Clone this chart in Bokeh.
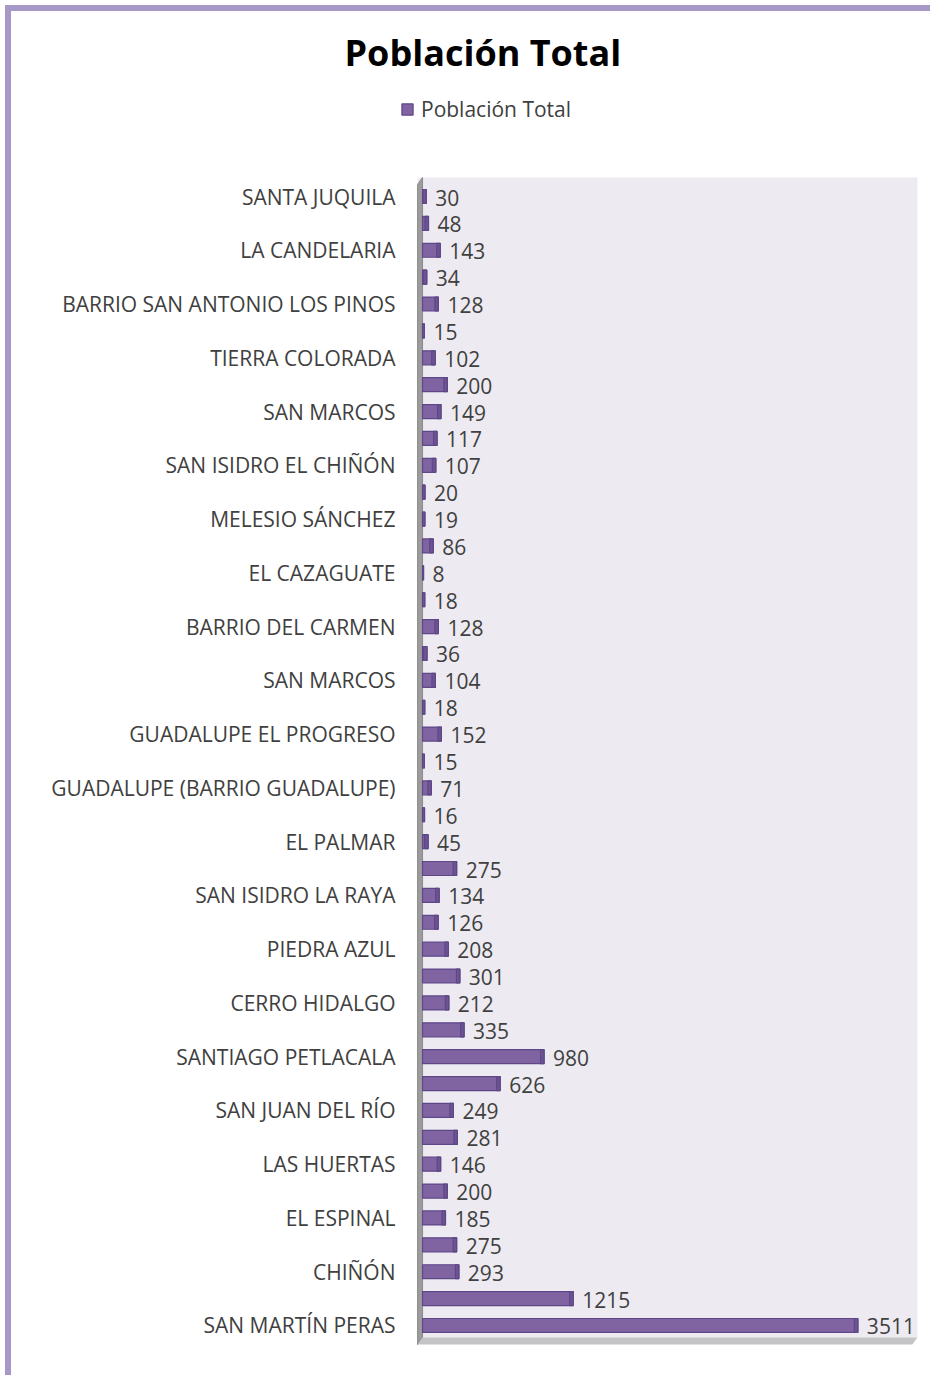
from bokeh.plotting import figure
from bokeh.models import Range1d, FixedTicker, Legend, LegendItem, ColumnDataSource, Title
from bokeh.core.properties import value
from bokeh.embed import file_html
from bokeh.resources import INLINE

# ---- data (top to bottom) ----
values = [30, 48, 143, 34, 128, 15, 102, 200, 149, 117, 107, 20, 19, 86, 8, 18,
          128, 36, 104, 18, 152, 15, 71, 16, 45, 275, 134, 126, 208, 301, 212, 335,
          980, 626, 249, 281, 146, 200, 185, 275, 293, 1215, 3511]
labeled_names = ["SANTA JUQUILA", "LA CANDELARIA", "BARRIO SAN ANTONIO LOS PINOS",
                 "TIERRA COLORADA", "SAN MARCOS", "SAN ISIDRO EL CHIÑÓN",
                 "MELESIO SÁNCHEZ", "EL CAZAGUATE", "BARRIO DEL CARMEN", "SAN MARCOS",
                 "GUADALUPE EL PROGRESO", "GUADALUPE (BARRIO GUADALUPE)", "EL PALMAR",
                 "SAN ISIDRO LA RAYA", "PIEDRA AZUL", "CERRO HIDALGO",
                 "SANTIAGO PETLACALA", "SAN JUAN DEL RÍO", "LAS HUERTAS", "EL ESPINAL",
                 "CHIÑÓN", "SAN MARTÍN PERAS"]
series_name = "Población Total"
title_text = "Población Total"

n = len(values)
idx = list(range(n))
FONT = "Open Sans"
TXT = "#404040"
CAP = 28  # rounded cap length in data units

src = ColumnDataSource(dict(
    y=idx, v=values, lab=[str(v) for v in values],
    capl=[max(v - CAP, 0) for v in values],
))

W, H = 925, 1370
p = figure(width=W, height=H, output_backend="svg", toolbar_location=None, title=None,
           x_range=Range1d(-210, 4000), y_range=Range1d(n - 0.255, -3.981),
           min_border_left=385, min_border_right=18, min_border_top=78,
           min_border_bottom=36)
p.styles = {"margin-left": "5px", "margin-top": "5px",
            "border-top": "6px solid #A898C8", "border-left": "6px solid #A898C8"}
p.background_fill_color = "white"
p.border_fill_color = "white"
p.outline_line_color = None
p.xgrid.visible = False
p.ygrid.visible = False
p.xaxis.visible = False

# plot area, 3D wall and floor
p.quad(left=-40, right=3992, top=-0.707, bottom=n - 0.55,
       fill_color="#EDEBF1", line_color=None)
p.patch(x=[-40, -40, 0, 0], y=[n - 0.29, -0.45, -0.707, n - 0.55],
        fill_color="#9C9C9C", line_color="#8A8A8A")
p.patch(x=[-40, 3950, 3992, 0], y=[n - 0.29, n - 0.29, n - 0.55, n - 0.55],
        fill_color="#C4C4C6", line_color=None)

bars = p.hbar(y="y", left=0, right="v", height=0.52, source=src,
              fill_color="#8064A2", line_color="#5E4788", line_width=1.2)
p.hbar(y="y", left="capl", right="v", height=0.52, source=src,
       fill_color="#6C5392", line_color="#5E4788", line_width=1.2)

p.text(x="v", y="y", text="lab", source=src, x_offset=9, y_offset=1,
       text_font=value(FONT), text_font_size="21px", text_color=TXT,
       text_baseline="middle", text_align="left")

ax = p.yaxis[0]
ax.ticker = FixedTicker(ticks=[2 * i for i in range(len(labeled_names))])
ax.major_label_overrides = {2 * i: nm for i, nm in enumerate(labeled_names)}
ax.axis_line_color = None
ax.major_tick_line_color = None
ax.minor_tick_line_color = None
ax.major_tick_out = 0
ax.major_tick_in = 0
ax.major_label_standoff = 1
ax.major_label_text_font = FONT
ax.major_label_text_font_size = "21px"
ax.major_label_text_color = TXT

p.add_layout(Title(text=title_text, text_font=FONT, text_font_size="36px",
                   text_font_style="bold", text_color="black", align="left",
                   offset=-52, standoff=25), "above")

legend = Legend(items=[LegendItem(label=series_name, renderers=[bars])],
                location=(4, 1222), orientation="horizontal",
                padding=0, margin=0, border_line_alpha=0, background_fill_alpha=0,
                glyph_width=14, glyph_height=14, label_standoff=7,
                label_text_font=FONT, label_text_font_size="21px",
                label_text_color=TXT)
p.add_layout(legend)

open("out.html", "w").write(file_html(p, INLINE))
